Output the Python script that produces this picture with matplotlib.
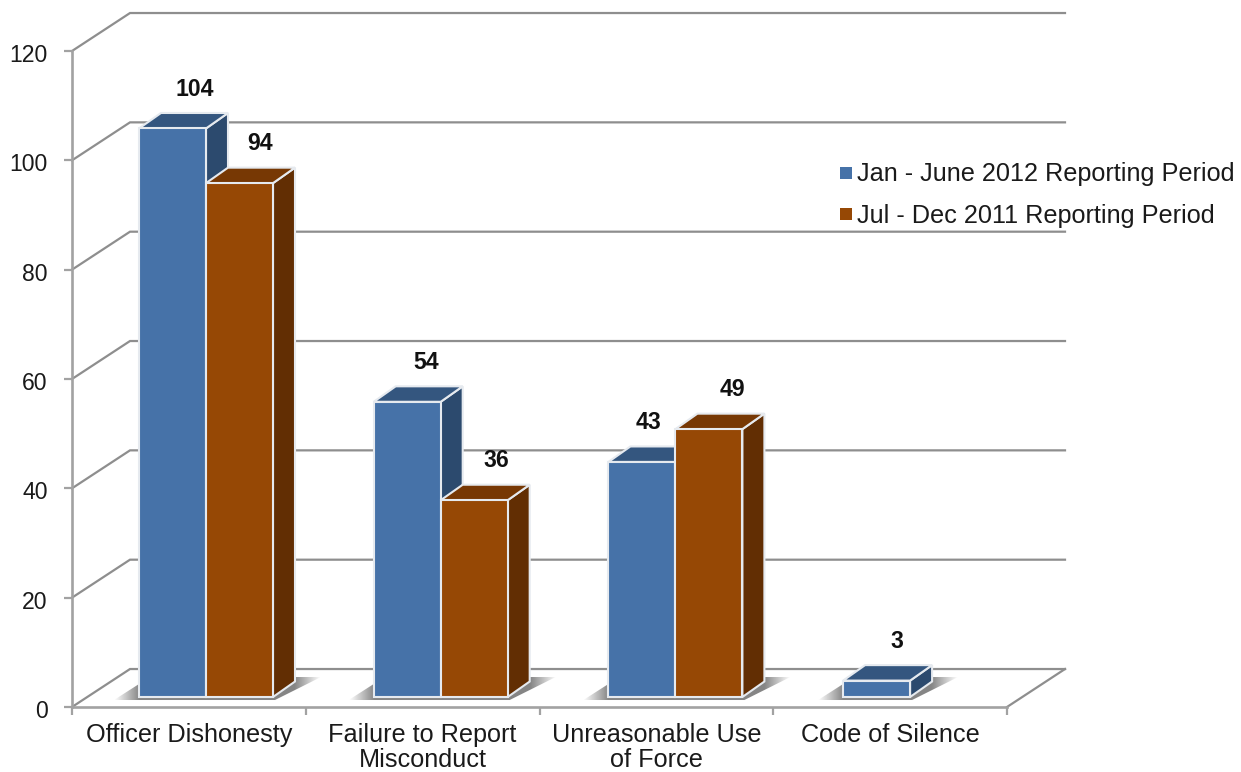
import numpy as np
from matplotlib import pyplot as plt
from matplotlib.lines import Line2D
from matplotlib.patches import Polygon
from matplotlib.transforms import ScaledTranslation

categories = ['Officer Dishonesty', 'Failure to Report\nMisconduct',
              'Unreasonable Use\nof Force', 'Code of Silence']
series_names = ['Jan - June 2012 Reporting Period',
                'Jul - Dec 2011 Reporting Period']
jan_june_2012 = [104, 54, 43, 3]
jul_dec_2011 = [94, 36, 49, None]
y_ticks = [0, 20, 40, 60, 80, 100, 120]

GRID = '#8e8e8e'
AXIS = '#a2a2a2'
BLUE = ('#4672a8', '#34567f', '#2c4a6e')
BROWN = ('#964805', '#773804', '#622e03')
EDGE = '#e6eaef'

# pixel scales of the front plane
PX_X = 233.75
PX_Y = 5.47

# sideways shift of the value labels, in pixels
BLUE_LABEL_DX = [22, 19, 7, 20]
BROWN_LABEL_DX = [21, 22.5, 24, 0]


def dx(px):
    return px / PX_X


def dy(px):
    return px / PX_Y


def draw_bar(ax, left, width, value, colors, floor):
    front, top, side = colors
    right = left + width
    high = floor + value
    depth_x, depth_y = dx(22), dy(15.5)
    faces = [
        ([(right, floor), (right + depth_x, floor + depth_y),
          (right + depth_x, high + depth_y), (right, high)], side),
        ([(left, high), (right, high), (right + depth_x, high + depth_y),
          (left + depth_x, high + depth_y)], top),
        ([(left, floor), (right, floor), (right, high), (left, high)], front),
    ]
    for points, color in faces:
        ax.add_patch(Polygon(points, closed=True, facecolor=color,
                             edgecolor=EDGE, linewidth=1.5, zorder=4,
                             clip_on=False, joinstyle='miter'))


def draw_shadow(ax, left, right, floor):
    # soft grey patch on the floor, fading out on both sides
    x0, x1 = left - dx(25), right + dx(48)
    stops = [x0, left, right + dx(22), x1]
    xs = np.linspace(x0, x1, 256)
    rgba = np.full((1, 256, 4), 0.5)
    rgba[0, :, 3] = np.interp(xs, stops, [0, 0.95, 0.95, 0])
    image = ax.imshow(rgba, extent=(x0, x1, 0, floor + dy(25)),
                      aspect='auto', origin='lower', zorder=2,
                      interpolation='bilinear')
    outline = Polygon([(x0, floor - dy(3)), (left, floor + dy(13)),
                       (right + dx(22), floor + dy(20)), (x1, floor + dy(20)),
                       (right + dx(2), floor - dy(3))],
                      closed=True, transform=ax.transData)
    image.set_clip_path(outline)


def main():
    plt.rcParams['font.family'] = ['Liberation Sans', 'DejaVu Sans']

    fig = plt.figure(figsize=(12.41, 7.72), dpi=100)
    ax = fig.add_axes([72 / 1241, 65 / 772, 935 / 1241, 656 / 772])

    # back wall and left wall grid lines
    wall_x, wall_y = dx(58), dy(38)
    for tick in y_ticks:
        ax.plot([0, wall_x, 4 + wall_x],
                [tick, tick + wall_y, tick + wall_y],
                color=GRID, lw=1.6, clip_on=False, zorder=1,
                solid_joinstyle='miter')
    ax.plot([4, 4 + wall_x], [0, wall_y], color=GRID, lw=1.6, clip_on=False,
            zorder=1)

    floor = dy(10)
    bar_w = dx(67)
    pitch = 234.7 / PX_X
    offset = dx(67)
    for i in range(len(categories)):
        left = offset + i * pitch
        n_bars = 2 if jul_dec_2011[i] is not None else 1
        draw_shadow(ax, left, left + n_bars * bar_w, floor)
        draw_bar(ax, left, bar_w, jan_june_2012[i], BLUE, floor)
        ax.annotate(str(jan_june_2012[i]),
                    (left + bar_w / 2, floor + jan_june_2012[i]),
                    xytext=(BLUE_LABEL_DX[i], 39), textcoords='offset pixels',
                    ha='center', va='center', fontsize=16.6,
                    fontweight='bold', color='#111111',
                    annotation_clip=False)
        if jul_dec_2011[i] is not None:
            draw_bar(ax, left + bar_w, bar_w, jul_dec_2011[i], BROWN, floor)
            ax.annotate(str(jul_dec_2011[i]),
                        (left + 1.5 * bar_w, floor + jul_dec_2011[i]),
                        xytext=(BROWN_LABEL_DX[i], 40),
                        textcoords='offset pixels',
                        ha='center', va='center', fontsize=16.6,
                        fontweight='bold', color='#111111',
                        annotation_clip=False)

    ax.set_xlim(0, 4)
    ax.set_ylim(0, 120)
    ax.set_yticks(y_ticks)
    ax.set_xticks(range(5))
    ax.set_xticklabels([])
    ax.set_xticks([0.5, 1.5, 2.5, 3.5], categories, minor=True)
    ax.tick_params(axis='x', which='major', length=6, width=1.6, color=AXIS)
    ax.tick_params(axis='x', which='minor', length=0, pad=11.5, labelsize=18.2,
                   labelcolor='#1a1a1a')
    ax.tick_params(axis='y', length=6, width=1.6, color=AXIS, pad=11.5,
                   labelsize=16.6, labelcolor='#1a1a1a')
    for label in ax.get_xticklabels(minor=True):
        label.set_linespacing(1.08)
    # the value labels sit a little under their tick marks
    nudge = ScaledTranslation(0, -2 / 100, fig.dpi_scale_trans)
    for label in ax.get_yticklabels():
        label.set_transform(label.get_transform() + nudge)
    for name in ('top', 'right'):
        ax.spines[name].set_visible(False)
    for name in ('left', 'bottom'):
        ax.spines[name].set_color(AXIS)
        ax.spines[name].set_linewidth(1.9)
    ax.patch.set_visible(False)

    handles = [Line2D([], [], linestyle='none', marker='s', markersize=8,
                      markeredgewidth=0, color=BLUE[0]),
               Line2D([], [], linestyle='none', marker='s', markersize=8,
                      markeredgewidth=0, color=BROWN[0])]
    fig.legend(handles, series_names, loc='center left',
               bbox_to_anchor=(836 / 1241, 1 - 195 / 772), frameon=False,
               fontsize=18.2, handlelength=0.8, handletextpad=0.04,
               labelspacing=0.68, labelcolor='#1a1a1a',
               borderpad=0, borderaxespad=0)

    plt.savefig('out.png', dpi=100)


if __name__ == '__main__':
    main()
